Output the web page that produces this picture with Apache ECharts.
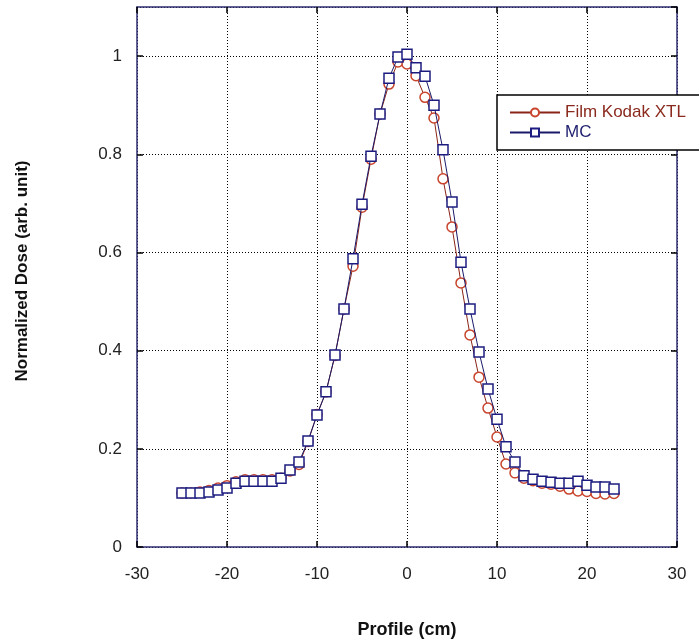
<!DOCTYPE html>
<html><head><meta charset="utf-8">
<script src="https://cdn.jsdelivr.net/npm/echarts@6/dist/echarts.min.js"></script>
<style>html,body{margin:0;padding:0;background:#fff}#c{width:699px;height:643px}</style>
</head><body><div id="c"></div>
<script>
const positions = [-25,-24,-23,-22,-21,-20,-19,-18,-17,-16,-15,-14,-13,-12,-11,-10,-9,-8,-7,-6,-5,-4,-3,-2,-1,0,1,2,3,4,5,6,7,8,9,10,11,12,13,14,15,16,17,18,19,20,21,22,23];
const filmKodak = [0.110,0.110,0.112,0.115,0.120,0.125,0.133,0.137,0.137,0.137,0.137,0.140,0.155,0.168,0.215,0.270,0.316,0.390,0.485,0.572,0.692,0.790,0.882,0.943,0.988,0.984,0.960,0.916,0.874,0.750,0.652,0.538,0.432,0.346,0.283,0.224,0.169,0.151,0.140,0.135,0.130,0.128,0.124,0.118,0.114,0.113,0.109,0.108,0.109];
const mc = [0.110,0.110,0.110,0.112,0.116,0.120,0.130,0.134,0.134,0.134,0.134,0.140,0.157,0.173,0.216,0.269,0.316,0.391,0.485,0.587,0.698,0.796,0.882,0.955,0.998,1.004,0.976,0.959,0.900,0.809,0.703,0.580,0.485,0.397,0.322,0.260,0.204,0.173,0.145,0.138,0.134,0.132,0.130,0.130,0.134,0.126,0.122,0.122,0.118];
const xTicks = {min:-30, max:30, interval:10};
const yTicks = {min:0, max:1.1, interval:0.2};

const FONT = "'Liberation Sans',Arial,sans-serif";
const frame = '#2e2e72';
const pairs = arr => positions.map((x,i)=>[x,arr[i]]);

const baseX = {type:'value', min:xTicks.min, max:xTicks.max, interval:xTicks.interval,
  axisLine:{show:true,onZero:false,lineStyle:{color:frame,width:1.5}},
  axisTick:{show:true,inside:true,length:6,lineStyle:{color:'#000',width:1.5}},
  splitLine:{show:false}};
const baseY = {type:'value', min:yTicks.min, max:yTicks.max, interval:yTicks.interval,
  axisLine:{show:true,onZero:false,lineStyle:{color:frame,width:1.5}},
  axisTick:{show:true,inside:true,length:6,lineStyle:{color:'#000',width:1.5}},
  splitLine:{show:false}};

const chart = echarts.init(document.getElementById('c'));
chart.setOption({
  animation:false,
  backgroundColor:'#fff',
  grid:{left:137, top:7, width:540, height:540, containLabel:false, outerBoundsMode:'none'},
  xAxis:[
    Object.assign({}, baseX, {position:'bottom',
      name:'Profile (cm)', nameLocation:'middle', nameGap:74,
      nameTextStyle:{fontFamily:FONT,fontSize:18,fontWeight:'bold',color:'#111'},
      axisLabel:{show:true,margin:19,fontFamily:FONT,fontSize:17,color:'#222'},
      splitLine:{show:true,lineStyle:{type:[1,2],color:'#000',width:1}}}),
    Object.assign({}, baseX, {position:'top', axisLabel:{show:false}})
  ],
  yAxis:[
    Object.assign({}, baseY, {position:'left',
      name:'Normalized Dose (arb. unit)', nameLocation:'middle', nameGap:106,
      nameTextStyle:{fontFamily:FONT,fontSize:17,fontWeight:'bold',color:'#111',padding:[0,0,0,12]},
      axisLabel:{show:true,margin:15,fontFamily:FONT,fontSize:17,color:'#222',showMaxLabel:false,
        formatter:v=> v>1.05 ? '' : (v===0?'0':(Math.round(v*10)/10).toString())},
      splitLine:{show:true,lineStyle:{type:[1,2],color:'#000',width:1}}}),
    Object.assign({}, baseY, {position:'right', axisLabel:{show:false}})
  ],
  legend:{
    show:true, orient:'vertical', left:497, top:95,
    backgroundColor:'#fff', borderColor:'#000', borderWidth:1.5,
    padding:[9,20,9,12], itemGap:3, itemWidth:50, itemHeight:10,
    textStyle:{fontFamily:FONT,fontSize:17},
    data:[
      {name:'Film Kodak XTL', textStyle:{color:'#8a2a1e'}},
      {name:'MC', textStyle:{color:'#1e1e6e'}}
    ]
  },
  series:[
    {name:'Film Kodak XTL', type:'line', data:pairs(filmKodak),
      symbol:'circle', symbolSize:10,
      lineStyle:{color:'#8a2418',width:1},
      itemStyle:{color:'#fff',borderColor:'#c8442c',borderWidth:1.5},
      z:2},
    {name:'MC', type:'line', data:pairs(mc),
      symbol:'rect', symbolSize:10,
      lineStyle:{color:'#1a1a6a',width:1},
      itemStyle:{color:'#fff',borderColor:'#1c1c80',borderWidth:1.5},
      z:3}
  ]
});
</script></body></html>
